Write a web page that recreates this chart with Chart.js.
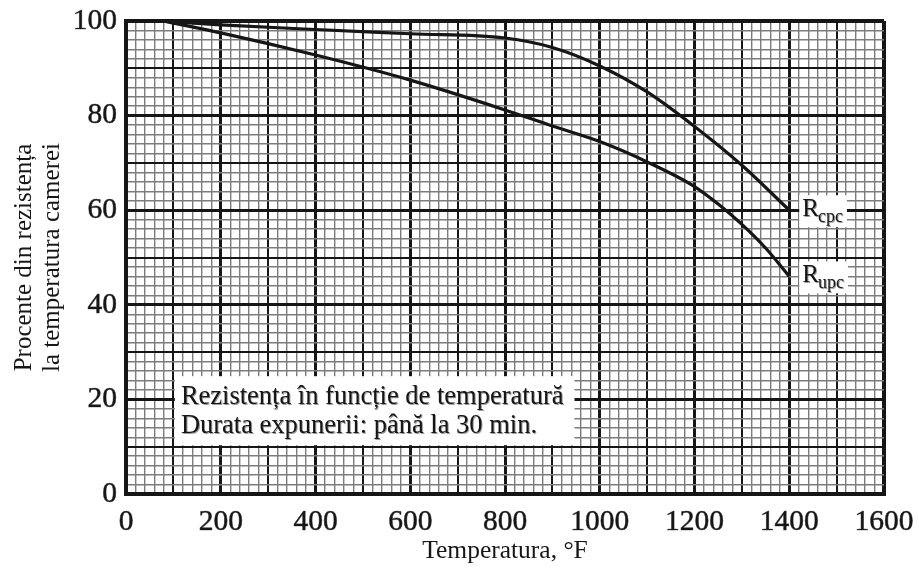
<!DOCTYPE html>
<html>
<head>
<meta charset="utf-8">
<script src="https://cdn.jsdelivr.net/npm/chart.js@4.4.1/dist/chart.umd.min.js"></script>
<style>
  html, body { margin: 0; padding: 0; background: #fff; }
</style>
</head>
<body>
<canvas id="chart" width="919" height="577"></canvas>
<script>
// curves (temperature in F, percent of room-temperature strength)
const cpcTemps  = [78, 200, 400, 600, 800, 900, 1000, 1100, 1200, 1300, 1400];
const cpcValues = [100, 99.2, 98.2, 97.3, 96.4, 94.4, 90.5, 85, 77.7, 69.5, 60];
const upcTemps  = [78, 200, 400, 600, 800, 900, 1000, 1100, 1200, 1250, 1300, 1350, 1400];
const upcValues = [100, 97.5, 92.8, 87.5, 81.2, 77.8, 74.5, 70.2, 65, 61.3, 57, 52, 46];

const seriesSubs = ['cpc', 'upc'];
const xTickLabels = [0, 200, 400, 600, 800, 1000, 1200, 1400, 1600];
const yTickLabels = [0, 20, 40, 60, 80, 100];
const noteLines = ['Rezistența în funcție de temperatură', 'Durata expunerii: până la 30 min.'];
const xTitle = 'Temperatura, °F';
const yTitle = ['Procente din rezistența', 'la temperatura camerei'];

const SERIF = '"Liberation Serif", "Times New Roman", serif';
const INK = '#161616';
const SHADE = '#6a6a6a';

// graph-paper lines: fine / medium / heavy
function gridWidth(v, heavy, medium, min, max) {
    if (v === min || v === max) return 4;
    if (v % heavy === 0) return 3;
    if (v % medium === 0) return 2;
    return 1.4;
}
function gridColor(v, medium) {
    return v % medium === 0 ? INK : '#7c7c7c';
}
function fineTicks(min, max, step) {
    const t = [];
    for (let v = min; v <= max; v += step) t.push({ value: v });
    return t;
}

const pts = (xs, ys) => xs.map((x, i) => ({ x: x, y: ys[i] }));

// white boxes with text: note box and R labels at the line ends
const notesPlugin = {
    id: 'notes',
    afterDatasetsDraw(chart) {
        const ctx = chart.ctx;
        const xs = chart.scales.x, ys = chart.scales.y;
        const shadowOn = () => { ctx.shadowColor = 'rgba(0,0,0,0.4)'; ctx.shadowOffsetX = 1; ctx.shadowOffsetY = 1; };
        const shadowOff = () => { ctx.shadowColor = 'transparent'; };
        ctx.save();

        ctx.font = '26.5px ' + SERIF;
        const w = Math.max(...noteLines.map(t => ctx.measureText(t).width));
        const left = xs.getPixelForValue(100) + 1.5;
        const bottom = ys.getPixelForValue(10) - 1.5;
        const lh = 29;
        const top = bottom - lh * noteLines.length - 11;
        shadowOff();
        ctx.fillStyle = '#fff';
        ctx.fillRect(left, top, w + 17, bottom - top);
        shadowOn();
        ctx.fillStyle = INK;
        ctx.textBaseline = 'middle';
        noteLines.forEach((t, i) => ctx.fillText(t, left + 6, top + 6 + lh * i + lh / 2));

        chart.data.datasets.forEach((ds, i) => {
            const meta = chart.getDatasetMeta(i);
            const p = meta.data[meta.data.length - 1];
            const bx = p.x + 10, by = p.y - 15;
            ctx.font = '25px ' + SERIF;
            const rw = ctx.measureText('R').width;
            ctx.font = '18px ' + SERIF;
            const sw = ctx.measureText(seriesSubs[i]).width;
            shadowOff();
            ctx.fillStyle = '#fff';
            ctx.fillRect(bx, by, rw + sw + 6, 32);
            shadowOn();
            ctx.fillStyle = INK;
            ctx.textBaseline = 'alphabetic';
            ctx.font = '25px ' + SERIF;
            ctx.fillText('R', bx + 3, p.y + 6);
            ctx.font = '18px ' + SERIF;
            ctx.fillText(seriesSubs[i], bx + 2 + rw, p.y + 12);
        });
        ctx.restore();
    }
};

const whiteBg = {
    id: 'whiteBg',
    beforeDraw(chart) {
        const ctx = chart.ctx;
        ctx.save();
        ctx.fillStyle = '#fff';
        ctx.fillRect(0, 0, chart.width, chart.height);
        ctx.restore();
    }
};

new Chart(document.getElementById('chart'), {
    type: 'line',
    data: {
        datasets: [
            { label: 'Rcpc', data: pts(cpcTemps, cpcValues) },
            { label: 'Rupc', data: pts(upcTemps, upcValues) }
        ]
    },
    options: {
        responsive: false,
        animation: false,
        layout: { padding: { left: 4, right: 35, top: 21, bottom: 6 } },
        elements: {
            line: { borderColor: INK, borderWidth: 3.2, cubicInterpolationMode: 'monotone', fill: false },
            point: { radius: 0, hoverRadius: 0 }
        },
        plugins: {
            legend: { display: false },
            tooltip: { enabled: false }
        },
        scales: {
            x: {
                type: 'linear',
                min: 0,
                max: 1600,
                afterBuildTicks: s => { s.ticks = fineTicks(0, 1600, 20); },
                afterFit: s => { s.height = 77; s.paddingLeft = 0; s.paddingRight = 0; },
                border: { display: true, width: 4, color: INK },
                grid: {
                    drawTicks: false,
                    color: c => gridColor(c.tick.value, 100),
                    lineWidth: c => gridWidth(c.tick.value, 200, 100, 0, 1600)
                },
                ticks: {
                    autoSkip: false,
                    maxRotation: 0,
                    padding: 11,
                    color: INK,
                    textStrokeColor: SHADE,
                    textStrokeWidth: 0.7,
                    font: { family: SERIF, size: 29.5 },
                    callback: v => xTickLabels.includes(v) ? String(v) : ''
                },
                title: {
                    display: true,
                    text: xTitle,
                    color: INK,
                    font: { family: SERIF, size: 25.5, lineHeight: 1 },
                    padding: { top: 0, bottom: 7 }
                }
            },
            y: {
                type: 'linear',
                min: 0,
                max: 100,
                afterBuildTicks: s => { s.ticks = fineTicks(0, 100, 2); },
                afterFit: s => { s.width = 122; s.paddingTop = 0; s.paddingBottom = 0; },
                border: { display: true, width: 4, color: INK },
                grid: {
                    drawTicks: false,
                    color: c => gridColor(c.tick.value, 10),
                    lineWidth: c => gridWidth(c.tick.value, 20, 10, 0, 100)
                },
                ticks: {
                    autoSkip: false,
                    padding: 9,
                    color: INK,
                    textStrokeColor: SHADE,
                    textStrokeWidth: 0.7,
                    font: { family: SERIF, size: 29.5 },
                    callback: v => yTickLabels.includes(v) ? String(v) : ''
                },
                title: {
                    display: true,
                    text: yTitle,
                    color: INK,
                    font: { family: SERIF, size: 25, lineHeight: 1.12 },
                    padding: { top: 6, bottom: 0 }
                }
            }
        }
    },
    plugins: [whiteBg, notesPlugin]
});
</script>
</body>
</html>
